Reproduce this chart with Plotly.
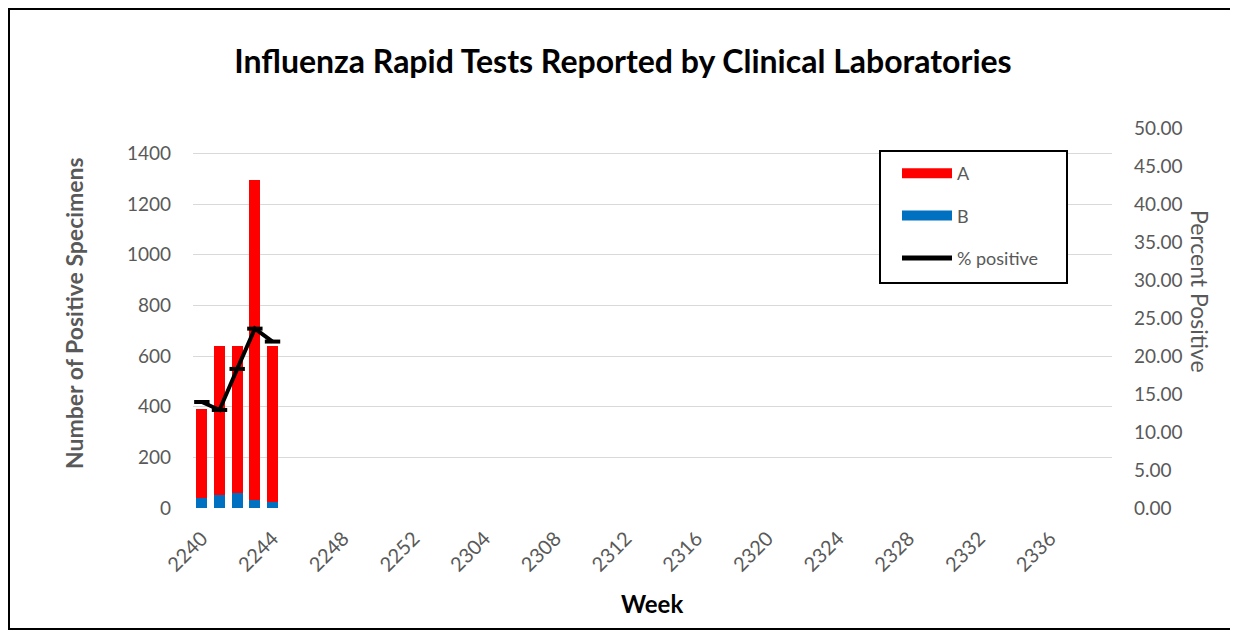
import plotly.graph_objects as go

# weeks shown on the x axis (2022 week 40 through 2023 week 39)
weeks = [str(2240 + i) for i in range(13)] + [str(2301 + i) for i in range(39)]

# values (only the first five weeks have data)
flu_a = [351, 585, 580, 1261, 615]
flu_b = [38, 53, 58, 33, 23]
pct_positive = [13.95, 12.9, 18.3, 23.6, 21.9]

# bars are placed by week index so the empty weeks still take up room
week_pos = list(range(len(weeks)))
tick_pos = week_pos[::4]
tick_text = weeks[::4]

GRAY = "#595959"
FONT = "Lato, Calibri, sans-serif"

# the page body has an 8px margin, so the figure is 8px smaller and
# everything is measured from the reference minus 8px
W, H = 1230, 623
PL, PR, PT, PB = 185, 1104, 120, 500   # plot area in figure pixels


def px(x):
    return (x - 8 - PL) / (PR - PL)


def py(y):
    return (PB - (y - 8)) / (PB - PT)


fig = go.Figure()
fig.add_trace(go.Bar(name="B", x=week_pos[:len(flu_b)], y=flu_b,
                     marker=dict(color="#0070C0", line=dict(width=0)),
                     showlegend=False))
fig.add_trace(go.Bar(name="A", x=week_pos[:len(flu_a)], y=flu_a,
                     marker=dict(color="#FF0000", line=dict(width=0)),
                     showlegend=False))
fig.add_trace(go.Scatter(name="% positive", x=week_pos[:len(pct_positive)], y=pct_positive,
                         yaxis="y2", mode="lines+markers",
                         line=dict(color="black", width=4),
                         marker=dict(symbol="line-ew", size=11,
                                     line=dict(color="black", width=4)),
                         showlegend=False))

# legend-only entries so the swatches look like the wide Excel patches
for nm, col, w in [("A", "#FF0000", 12), ("B", "#0070C0", 12), ("% positive", "black", 5)]:
    fig.add_trace(go.Scatter(name=nm, x=[None], y=[None], mode="lines",
                             line=dict(color=col, width=w), legendgroup=nm,
                             hoverinfo="skip"))

fig.update_layout(
    width=W, height=H,
    margin=dict(l=PL, r=W - PR, t=PT, b=H - PB, autoexpand=False),
    barmode="stack", bargap=0.38,
    paper_bgcolor="white", plot_bgcolor="white",
    font=dict(family=FONT, color=GRAY, size=17),
    title=dict(text="<b>Influenza Rapid Tests Reported by Clinical Laboratories</b>",
               x=0.5, xanchor="center", y=1 - 54 / H, yanchor="middle",
               font=dict(size=32, color="black", family=FONT)),
    xaxis=dict(range=[-0.5, len(weeks) - 0.5],
               tickmode="array", tickvals=tick_pos, ticktext=tick_text,
               tickangle=-45, showgrid=False, showline=False, zeroline=False,
               ticks="", ticklabelstandoff=14, tickfont=dict(size=20, color=GRAY)),
    yaxis=dict(range=[0, 1500], tickmode="array", tickvals=list(range(0, 1401, 200)),
               showgrid=True, gridcolor="#D9D9D9", gridwidth=1, zeroline=False,
               showline=False, ticks="", ticklabelstandoff=21,
               tickfont=dict(size=19, color=GRAY)),
    yaxis2=dict(range=[0, 50], overlaying="y", side="right", dtick=5,
                tickformat=".2f", showgrid=False, zeroline=False, showline=False,
                ticks="", ticklabelstandoff=21, tickfont=dict(size=19, color=GRAY)),
    legend=dict(x=px(897), y=py(155), xanchor="left", yanchor="top",
                bgcolor="rgba(0,0,0,0)", borderwidth=0,
                traceorder="grouped", tracegroupgap=16, itemwidth=50,
                font=dict(size=18, color=GRAY)),
    annotations=[
        dict(text="<b>Number of Positive Specimens</b>", textangle=-90, showarrow=False,
             xref="paper", yref="paper", x=px(74), y=py(313),
             xanchor="center", yanchor="middle",
             font=dict(size=23, color=GRAY)),
        dict(text="Percent Positive", textangle=90, showarrow=False,
             xref="paper", yref="paper", x=px(1200), y=py(291),
             xanchor="center", yanchor="middle",
             font=dict(size=23, color=GRAY)),
        dict(text="<b>Week</b>", showarrow=False,
             xref="paper", yref="paper", x=px(652), y=py(603),
             xanchor="center", yanchor="middle",
             font=dict(size=24, color="black")),
    ],
    shapes=[
        # legend frame
        dict(type="rect", xref="paper", yref="paper", layer="above",
             x0=px(880), x1=px(1067), y0=py(283), y1=py(151),
             fillcolor="white", line=dict(color="black", width=2)),
        # outer chart border
        dict(type="rect", xref="paper", yref="paper", layer="below",
             x0=px(9), x1=px(1233), y0=py(629), y1=py(9),
             line=dict(color="black", width=2)),
    ],
)

fig.write_html("out.html")
